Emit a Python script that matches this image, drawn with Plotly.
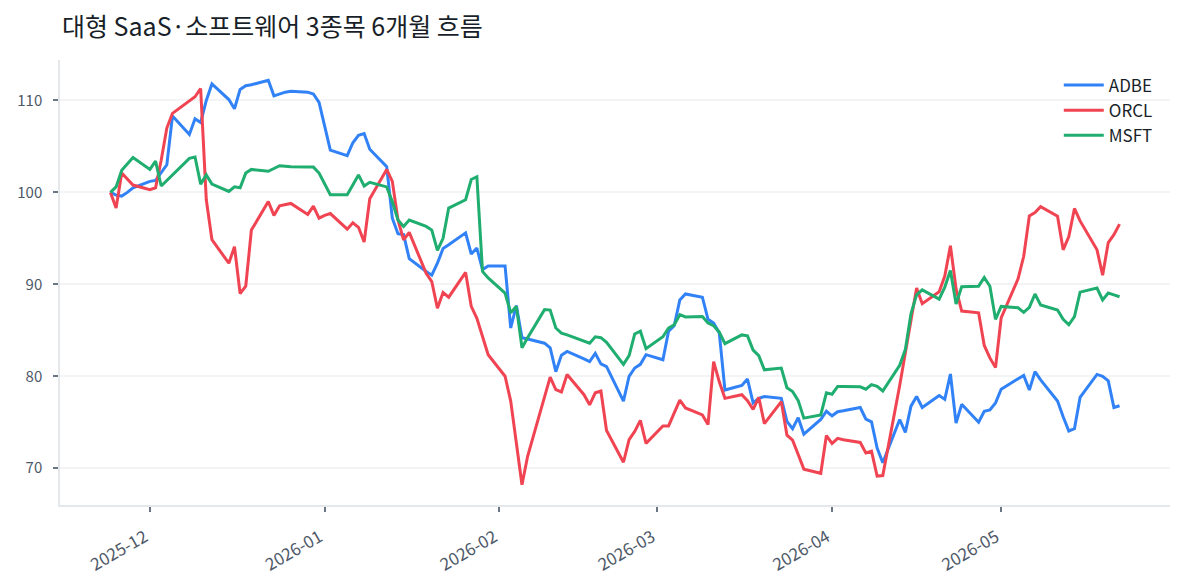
import pandas as pd
import plotly.graph_objects as go

dates = pd.bdate_range("2025-11-24", "2026-05-22")

adbe = [100.0, 99.7, 99.6, 100.0, 100.5, 101.2, 101.3, 102.2, 103.0, 108.3,
        106.3, 108.0, 107.6, 110.0, 111.8, 110.1, 109.1, 111.2, 111.6, 111.7,
        112.2, 110.5, 110.7, 110.9, 111.0, 110.9, 110.7, 109.8, 107.2, 104.6,
        104.0, 105.4, 106.2, 106.4, 104.7, 102.8, 97.2, 95.5, 95.4, 92.8,
        91.4, 91.0, 92.3, 93.9, 94.3, 95.6, 93.3, 93.95, 91.6, 92.0,
        92.0, 85.25, 87.7, 84.2, 84.05, 83.6, 83.1, 80.5, 82.3, 82.7,
        81.9, 81.6, 82.5, 81.35, 81.05, 77.3, 80.0, 80.9, 81.3, 82.35,
        81.8, 84.9, 85.5, 88.3, 88.95, 88.6, 86.2, 85.8, 84.7, 78.5,
        79.0, 79.7, 77.1, 77.6, 77.8, 77.6, 75.1, 74.3, 75.5, 73.7,
        75.3, 76.2, 75.7, 76.15, 76.25, 76.6, 75.35, 75.05, 72.2, 70.6,
        75.3, 73.9, 76.75, 77.8, 76.6, 77.9, 77.5, 80.25, 74.9, 76.95,
        75.0, 76.2, 76.35, 77.1, 78.6, 79.75, 80.1, 78.5, 80.5, 79.6,
        77.3, 75.6, 74.05, 74.3, 77.7, 80.2, 80.0, 79.5, 76.6, 76.8]

orcl = [100.0, 98.3, 102.1, 101.4, 100.8, 100.3, 100.5, 103.5, 107.0, 108.6,
        109.9, 110.4, 111.3, 99.2, 94.85, 92.3, 94.1, 89.0, 89.8, 95.9,
        99.0, 97.5, 98.55, 98.7, 98.8, 97.6, 98.5, 97.2, 97.5, 97.7,
        96.0, 96.7, 96.2, 94.6, 99.3, 102.5, 101.2, 97.0, 94.85, 95.65,
        91.2, 90.3, 87.4, 89.1, 88.6, 91.3, 87.6, 86.3, 84.2, 82.35,
        80.0, 77.3, 72.75, 68.2, 71.3, 77.9, 79.9, 78.55, 78.3, 80.2,
        78.0, 76.9, 78.2, 78.4, 74.1, 70.65, 73.1, 74.0, 75.2, 72.7,
        74.6, 74.6, 76.0, 77.4, 76.55, 75.8, 74.75, 81.6, 79.4, 77.6,
        78.0, 77.35, 76.4, 77.7, 74.85, 77.25, 73.6, 73.05, 71.5, 69.9,
        69.45, 73.55, 72.7, 73.25, 73.1, 72.8, 71.65, 71.85, 69.15, 69.2,
        79.0, 82.6, 86.0, 89.6, 87.9, 89.2, 90.9, 94.2, 89.5, 87.1,
        86.9, 83.35, 82.0, 80.95, 86.35, 90.6, 93.05, 97.45, 97.8, 98.45,
        97.4, 93.75, 95.2, 98.25, 96.9, 93.75, 91.0, 94.55, 95.4, 96.55]

msft = [100.0, 100.6, 102.4, 103.1, 103.8, 102.5, 103.4, 100.7, 101.3, 101.9,
        103.7, 103.85, 100.9, 101.9, 100.9, 100.1, 100.6, 100.5, 102.1, 102.5,
        102.3, 102.6, 102.9, 102.85, 102.8, 102.75, 102.75, 102.1, 100.9, 99.75,
        99.75, 100.8, 101.9, 100.7, 101.1, 100.6, 99.0, 97.0, 96.3, 97.0,
        96.3, 95.9, 93.7, 95.0, 98.3, 99.2, 101.4, 101.7, 91.4, 90.7,
        89.05, 86.9, 87.6, 83.1, 84.2, 87.25, 87.2, 85.25, 84.7, 84.5,
        83.8, 83.6, 84.3, 84.2, 83.7, 81.3, 82.25, 84.6, 84.9, 83.0,
        84.3, 85.25, 85.6, 86.7, 86.45, 86.5, 85.8, 85.5, 84.8, 83.55,
        84.5, 84.4, 82.85, 82.25, 80.7, 80.9, 78.75, 78.35, 77.35, 75.45,
        75.8, 78.2, 78.05, 78.9, 78.9, 78.85, 78.6, 79.1, 78.9, 78.4,
        81.2, 82.9, 86.8, 88.85, 89.4, 88.4, 89.7, 91.5, 87.85, 89.75,
        89.8, 90.75, 89.8, 86.2, 87.6, 87.45, 86.95, 87.5, 88.95, 87.75,
        87.2, 86.2, 85.6, 86.5, 89.15, 89.6, 88.3, 89.05, 88.85, 88.65]

names = ["ADBE", "ORCL", "MSFT"]
colors = ["#3182f6", "#f04452", "#1fae6f"]
title = "대형 SaaS·소프트웨어 3종목 6개월 흐름"
y_ticks = [70, 80, 90, 100, 110]

fig = go.Figure()
for name, vals, col in zip(names, [adbe, orcl, msft], colors):
    fig.add_trace(go.Scatter(x=dates, y=vals, mode="lines", name=name,
                             legendgroup=name,
                             line=dict(color=col, width=3)))

allv = adbe + orcl + msft
lo, hi = min(allv), max(allv)
pad = (hi - lo) * 0.05
span = dates[-1] - dates[0]
xpad = span * 0.05

font_family = "Noto Sans CJK KR, sans-serif"
fig.update_layout(
    width=1184, height=585,
    margin=dict(l=60, r=14, t=60, b=80, autoexpand=False),
    paper_bgcolor="white", plot_bgcolor="white",
    font=dict(family=font_family, color="#4e5968", size=15),
    title=dict(text=title, x=62 / 1184, xanchor="left", xref="container",
               y=1 - 27 / 585, yanchor="middle", yref="container",
               font=dict(family=font_family, size=25, color="#191f28")),
    showlegend=True,
    legend=dict(x=0.989, xanchor="right", y=0.983, yanchor="top",
                bgcolor="rgba(0,0,0,0)", tracegroupgap=0, itemwidth=40,
                font=dict(size=17, color="#191f28", family=font_family)),
    xaxis=dict(range=[dates[0] - xpad, dates[-1] + xpad], automargin=False,
               tickformat="%Y-%m", dtick="M1", tick0="2025-12-01",
               tickangle=-30, showgrid=False, zeroline=False,
               showline=True, linecolor="#e5e8eb", linewidth=1.5,
               ticks="outside", ticklen=5, tickwidth=1.5, tickcolor="#6b7684",
               ticklabelstandoff=9, ticklabelshift=-5,
               tickfont=dict(size=17, color="#4e5968")),
    yaxis=dict(range=[lo - pad, hi + pad], tickvals=y_ticks, automargin=False,
               showgrid=True, gridcolor="#f2f4f6", gridwidth=1.5, zeroline=False,
               showline=True, linecolor="#e5e8eb", linewidth=1.5,
               ticks="outside", ticklen=5, tickwidth=1.5, tickcolor="#6b7684",
               ticklabelstandoff=8,
               tickfont=dict(size=15, color="#4e5968")),
)

fig.write_html("out.html")
